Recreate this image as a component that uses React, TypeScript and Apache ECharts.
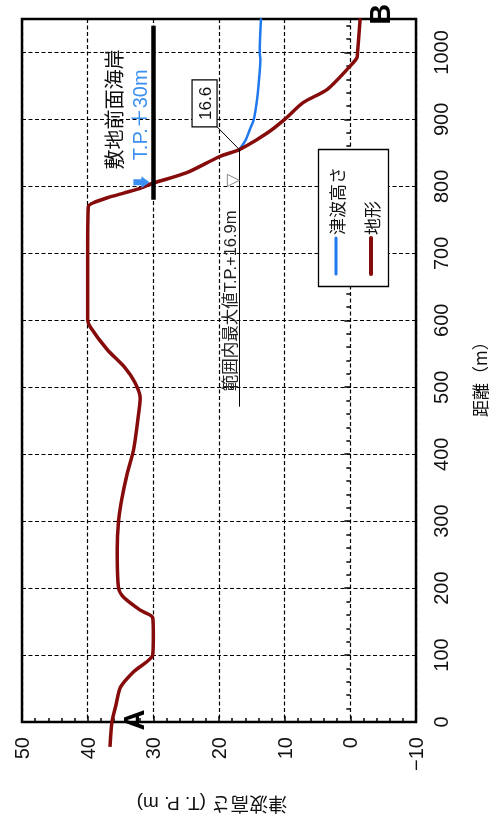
import React, { useEffect, useRef } from "react";
import * as echarts from "echarts";

// Terrain profile: distance (m) and elevation (T.P. m)
const terrainDist = [-37, 0, 25, 52, 75, 100, 130, 156, 167, 187, 200, 257, 300, 333, 370, 407, 456, 484, 507, 529, 556, 590, 601, 650, 700, 770, 776, 783, 790, 797, 805, 820, 845, 855, 880, 900, 925, 945, 980, 992, 1000, 1051];
const terrainHeight = [36.6, 36.3, 35.7, 35.0, 33.0, 30.1, 30.0, 30.1, 32.0, 34.6, 35.3, 35.5, 35.3, 34.8, 34.0, 33.0, 32.3, 32.0, 32.8, 34.3, 37.0, 39.6, 40.0, 40.0, 40.0, 39.9, 39.0, 37.0, 34.5, 32.0, 30.0, 25.0, 19.8, 16.9, 12.6, 10.0, 7.2, 3.5, 0.0, -1.0, -1.1, -1.5];

// Tsunami height
const tsunamiDist = [855, 862, 870, 885, 900, 930, 960, 990, 1000, 1051];
const tsunamiHeight = [16.9, 16.4, 15.9, 15.3, 14.7, 14.2, 13.9, 13.7, 13.8, 13.6];

// Axes
const heightMin = -10;
const heightMax = 50;
const heightStep = 10;
const distMin = 0;
const distMax = 1050;
const distStep = 100;

// Annotations
const seawallHeight = 30;
const seawallRange = [780, 1040];
const maxValue = 16.9;
const maxLineRange = [471, 855];
const peakLabel = "16.6";
const maxText = "範囲内最大値T.P.+16.9m";
const seawallName = "敷地前面海岸";
const seawallText = "T.P.＋30m";
const legendNames = ["津波高さ", "地形"];

const RED = "#860b0b";
const BLUE = "#1f78ee";
const LBLUE = "#3b8ff2";
const NUM_FONT = "'Liberation Sans Narrow', 'Liberation Sans', Arial, sans-serif";
const JP_FONT = "'Liberation Sans', 'Noto Sans CJK JP', sans-serif";
const CJK_FONT = "'Noto Sans CJK JP', sans-serif";

export default function App() {
  const ref = useRef<HTMLDivElement>(null);
  useEffect(() => {
    document.body.style.margin = "0";
    const chart = echarts.init(ref.current!, null, { renderer: "svg" });
    const fmt = (v: number) => (v < 0 ? "−" + Math.abs(v) : String(v));
    chart.setOption({
      animation: false,
      grid: {
        left: 22,
        right: 85,
        top: 19,
        bottom: 110,
        show: true,
        borderColor: "#000",
        borderWidth: 2.5,
        backgroundColor: "#fff",
      },
      xAxis: {
        type: "value",
        min: heightMin,
        max: heightMax,
        interval: heightStep,
        inverse: true,
        position: "bottom",
        axisLine: { show: false },
        axisTick: { show: true, inside: true, length: 6, lineStyle: { color: "#000", width: 1.5 } },
        minorTick: { show: true, splitNumber: 5, length: 4, lineStyle: { color: "#000", width: 1.5 } },
        splitLine: { show: true, lineStyle: { color: "#000", width: 1.2, type: [4, 2.5] } },
        axisLabel: { rotate: 90, margin: 15, color: "#111", fontSize: 20, fontFamily: NUM_FONT, formatter: fmt },
      },
      yAxis: {
        type: "value",
        min: distMin,
        max: distMax,
        interval: distStep,
        position: "right",
        axisLine: { show: false },
        axisTick: { show: true, inside: true, length: 6, lineStyle: { color: "#000", width: 1.5 } },
        minorTick: { show: true, splitNumber: 5, length: 4, lineStyle: { color: "#000", width: 1.5 } },
        splitLine: { show: true, lineStyle: { color: "#000", width: 1.2, type: [4, 2.5] } },
        axisLabel: { rotate: 90, margin: 15, color: "#111", fontSize: 20, fontFamily: NUM_FONT, showMaxLabel: false, formatter: fmt },
      },
      series: [
        {
          type: "line",
          name: legendNames[0],
          data: tsunamiDist.map((d, i) => [tsunamiHeight[i], d]),
          showSymbol: false,
          smooth: 0.3,
          lineStyle: { color: BLUE, width: 2.5 },
          z: 3,
        },
        {
          type: "line",
          name: legendNames[1],
          data: terrainDist.map((d, i) => [terrainHeight[i], d]),
          showSymbol: false,
          smooth: 0.25,
          clip: false,
          lineStyle: { color: RED, width: 3.5 },
          z: 4,
          markLine: {
            symbol: "none",
            silent: true,
            label: { show: false },
            data: [
              [
                { coord: [seawallHeight, seawallRange[0]], lineStyle: { color: "#000", width: 4.5, type: "solid" } },
                { coord: [seawallHeight, seawallRange[1]] },
              ],
              [
                { coord: [maxValue, maxLineRange[0]], lineStyle: { color: "#000", width: 1, type: "solid" } },
                { coord: [maxValue, maxLineRange[1]] },
              ],
            ],
          },
        },
      ],
    });

    const px = (v: number, d: number) => chart.convertToPixel({ gridIndex: 0 }, [v, d]) as number[];
    const R = Math.PI / 2;
    const seawallNamePos = px(36.1, 915);
    const seawallTextPos = px(32.0, 907);
    const arrowTip = px(30.6, 806);
    const boxCenter = px(22.2, 924);
    const boxCorner = px(20.3, 889);
    const peakPt = px(maxValue, maxLineRange[1]);
    const triTip = px(maxValue, 809);
    const maxTextPos = px(18.3, 629);
    const aPos = px(32.9, 3);
    const bPos = px(-4.5, 1057);

    const graphic: any[] = [
      {
        type: "text", x: seawallNamePos[0], y: seawallNamePos[1], rotation: R, z: 20,
        style: { text: seawallName, fill: "#111", font: `20px ${CJK_FONT}`, textAlign: "center", textVerticalAlign: "middle" },
      },
      {
        type: "text", x: seawallTextPos[0], y: seawallTextPos[1], rotation: R, z: 20,
        style: { text: seawallText, fill: LBLUE, font: `20px ${JP_FONT}`, textAlign: "center", textVerticalAlign: "middle" },
      },
      {
        type: "polygon", z: 20,
        shape: {
          points: [
            [arrowTip[0], arrowTip[1]],
            [arrowTip[0] - 8, arrowTip[1] - 6],
            [arrowTip[0] - 8, arrowTip[1] - 3],
            [arrowTip[0] - 16, arrowTip[1] - 3],
            [arrowTip[0] - 16, arrowTip[1] + 3],
            [arrowTip[0] - 8, arrowTip[1] + 3],
            [arrowTip[0] - 8, arrowTip[1] + 6],
          ],
        },
        style: { fill: LBLUE },
      },
      {
        type: "line", z: 19,
        shape: { x1: boxCorner[0], y1: boxCorner[1], x2: peakPt[0], y2: peakPt[1] },
        style: { stroke: "#000", lineWidth: 1 },
      },
      {
        type: "rect", z: 20,
        shape: { x: boxCenter[0] - 12.5, y: boxCenter[1] - 23.5, width: 25, height: 47 },
        style: { fill: "#fff", stroke: "#000", lineWidth: 1.2 },
      },
      {
        type: "text", x: boxCenter[0] + 0.5, y: boxCenter[1], rotation: R, z: 21,
        style: { text: peakLabel, fill: "#111", font: `17px 'Liberation Sans', Arial, sans-serif`, textAlign: "center", textVerticalAlign: "middle" },
      },
      {
        type: "polygon", z: 20,
        shape: {
          points: [
            [triTip[0], triTip[1]],
            [triTip[0] - 12, triTip[1] - 6],
            [triTip[0] - 12, triTip[1] + 6],
          ],
        },
        style: { fill: "#fff", stroke: "#888", lineWidth: 1 },
      },
      {
        type: "text", x: maxTextPos[0], y: maxTextPos[1], rotation: R, z: 20,
        style: { text: maxText, fill: "#222", font: `16.5px ${JP_FONT}`, textAlign: "center", textVerticalAlign: "middle" },
      },
      {
        type: "text", x: aPos[0], y: aPos[1], rotation: R, z: 20,
        style: { text: "A", fill: "#000", font: `bold 29px 'Liberation Sans', Arial, sans-serif`, textAlign: "center", textVerticalAlign: "middle" },
      },
      {
        type: "text", x: bPos[0], y: bPos[1], rotation: R, z: 20,
        style: { text: "B", fill: "#000", font: `bold 29px 'Liberation Sans', Arial, sans-serif`, textAlign: "center", textVerticalAlign: "middle" },
      },
      // legend
      {
        type: "rect", z: 20,
        shape: { x: 318.5, y: 149.5, width: 70, height: 137 },
        style: { fill: "#fff", stroke: "#000", lineWidth: 1.3 },
      },
      {
        type: "line", z: 21,
        shape: { x1: 336, y1: 238, x2: 336, y2: 274 },
        style: { stroke: BLUE, lineWidth: 3, lineCap: "round" },
      },
      {
        type: "line", z: 21,
        shape: { x1: 371, y1: 238, x2: 371, y2: 274 },
        style: { stroke: RED, lineWidth: 4, lineCap: "round" },
      },
      {
        type: "text", x: 336, y: 235, rotation: R, z: 21,
        style: { text: legendNames[0], fill: "#111", font: `17px ${CJK_FONT}`, textAlign: "left", textVerticalAlign: "middle" },
      },
      {
        type: "text", x: 371, y: 235, rotation: R, z: 21,
        style: { text: legendNames[1], fill: "#111", font: `17px ${CJK_FONT}`, textAlign: "left", textVerticalAlign: "middle" },
      },
      // axis names
      {
        type: "text", x: 479, y: 375, rotation: R, z: 21,
        style: { text: "距離（m）", fill: "#111", font: `17px ${CJK_FONT}`, textAlign: "center", textVerticalAlign: "middle" },
      },
      {
        type: "text", x: 212, y: 803, rotation: Math.PI, z: 21,
        style: { text: "津波高さ (T. P. m)", fill: "#111", font: `19px ${JP_FONT}`, textAlign: "center", textVerticalAlign: "middle" },
      },
    ];
    chart.setOption({ graphic });
    return () => chart.dispose();
  }, []);
  return <div ref={ref} style={{ position: "fixed", left: 0, top: 0, width: 501, height: 832 }} />;
}
